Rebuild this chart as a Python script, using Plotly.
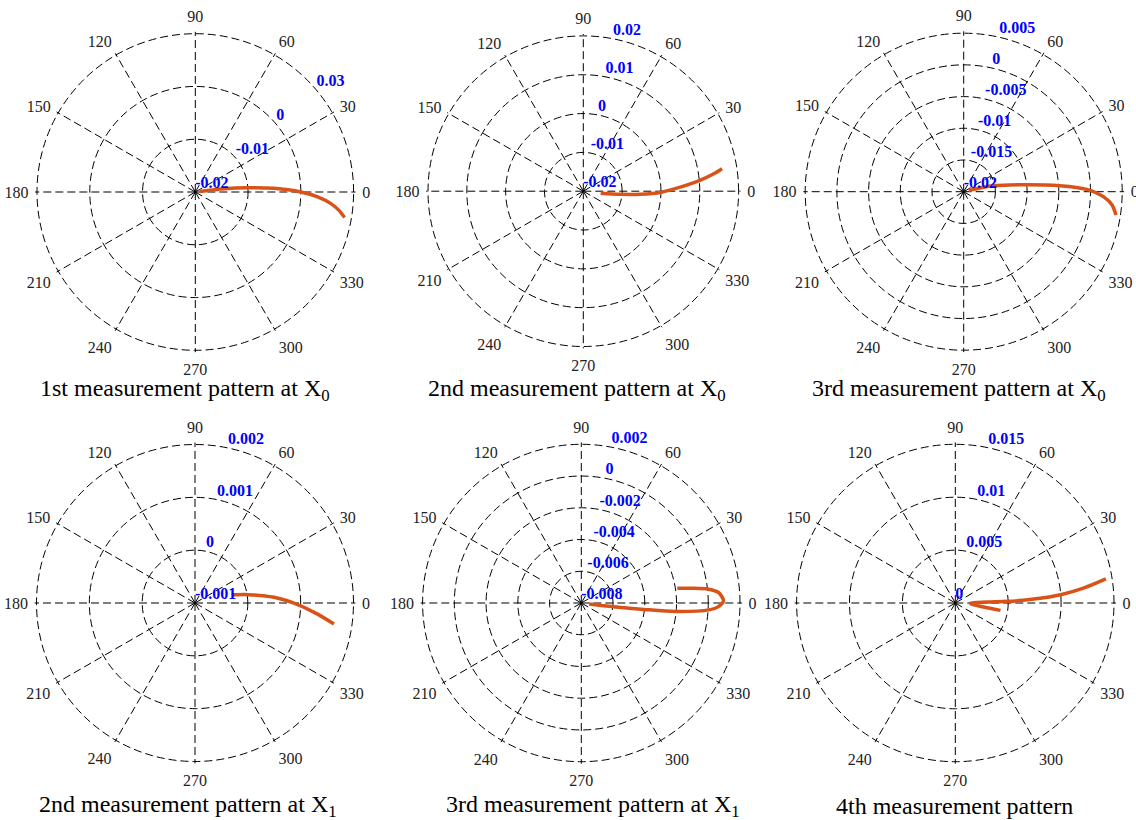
import plotly.graph_objects as go

W, H = 1136, 820

# ---------------- data ----------------
titles = [
    "1st measurement pattern at X<sub>0</sub>",
    "2nd measurement pattern at X<sub>0</sub>",
    "3rd measurement pattern at X<sub>0</sub>",
    "2nd measurement pattern at X<sub>1</sub>",
    "3rd measurement pattern at X<sub>1</sub>",
    "4th measurement pattern",
]

angle_ticks = [0, 30, 60, 90, 120, 150, 180, 210, 240, 270, 300, 330]
angle_labels = ["0", "30", "60", "90", "120", "150", "180", "210", "240", "270", "300", "330"]

# radial ring values and their printed labels
rticks_1 = [-0.02, -0.01, 0.0, 0.01]
rlabels_1 = ["-0.02", "-0.01", "0", "0.03"]
rticks_2 = [-0.02, -0.01, 0.0, 0.01, 0.02]
rlabels_2 = ["-0.02", "-0.01", "0", "0.01", "0.02"]
rticks_3 = [-0.02, -0.015, -0.01, -0.005, 0.0, 0.005]
rlabels_3 = ["-0.02", "-0.015", "-0.01", "-0.005", "0", "0.005"]
rticks_4 = [-0.001, 0.0, 0.001, 0.002]
rlabels_4 = ["-0.001", "0", "0.001", "0.002"]
rticks_5 = [-0.008, -0.006, -0.004, -0.002, 0.0, 0.002]
rlabels_5 = ["-0.008", "-0.006", "-0.004", "-0.002", "0", "0.002"]
rticks_6 = [0.0, 0.005, 0.01, 0.015]
rlabels_6 = ["0", "0.005", "0.01", "0.015"]

# measured curves (theta in degrees, r in axis units)
theta_1 = [8, 6.5, 4.6, 2.7, 0, -2.3, -4.9, -7.2, -9.7]
r_1 = [-0.0192, -0.0145, -0.0100, -0.0051, 0.0000, 0.0032, 0.0058, 0.0074, 0.0087]

theta_2 = [-6.6, -4.7, -3.0, -0.7, 2.4, 5.2, 7.6, 9.2]
r_2 = [-0.0155, -0.0105, -0.0053, 0.0001, 0.0050, 0.0100, 0.0139, 0.0162]

theta_3 = [15, 11.6, 6.4, 3.6, 1.1, -2.1, -5.1, -8.7]
r_3 = [-0.0192, -0.0153, -0.0100, -0.0048, -0.0006, 0.0021, 0.0035, 0.0043]

theta_4 = [12.3, 8.9, 4.1, -1.5, -5.1, -8.6]
r_4 = [-0.00029, 0.00002, 0.0005, 0.0010, 0.00132, 0.00166]

theta_5 = [-7, -6.5, -5.8, -5.1, -3.1, -1.5, 0.9, 4.4, 6.2, 7.6, 8.8]
r_5 = [-0.00751, -0.00597, -0.00402, -0.00204, 0.00003, 0.00064, 0.00096,
       0.00067, 0.00007, -0.00096, -0.00188]

theta_6 = [-9.3, -8.1, -3, 0, 1.8, 1.8, 2.9, 4.5, 6.7, 9.1]
r_6 = [0.00433, 0.00268, 0.00146, 0.00146, 0.00298, 0.00496, 0.00744, 0.00999, 0.01226, 0.01441]

panels = [
    (theta_1, r_1, rticks_1, rlabels_1),
    (theta_2, r_2, rticks_2, rlabels_2),
    (theta_3, r_3, rticks_3, rlabels_3),
    (theta_4, r_4, rticks_4, rlabels_4),
    (theta_5, r_5, rticks_5, rlabels_5),
    (theta_6, r_6, rticks_6, rlabels_6),
]

# ---------------- layout geometry (pixels) ----------------
centers = [(195.3, 192.0), (583.3, 191.2), (963.7, 191.7),
           (195.0, 603.0), (581.3, 603.0), (955.3, 603.0)]
radii = [158.3, 155.3, 158.5, 158.5, 158.7, 158.7]
label_angles = [40, 79, 77, 78, 79, 78]
title_x = [185, 577, 959, 187.5, 593, 954]
title_y = [389.5, 389.5, 389.5, 806, 806, 806]
EDGE = 0.012  # small headroom so the outermost ring is drawn as a grid circle

SERIF = "Liberation Serif, Times New Roman, serif"
ORANGE = "#D95319"
DASH = "8px,4px"

fig = go.Figure()
layout_polars = {}

for i, (th, rr, rt, rl) in enumerate(panels):
    name = "polar" if i == 0 else f"polar{i+1}"
    cx, cy = centers[i]
    R = radii[i] * (1 + EDGE)
    span = rt[-1] - rt[0]
    layout_polars[name] = dict(
        domain=dict(x=[(cx - R) / W, (cx + R) / W],
                    y=[1 - (cy + R) / H, 1 - (cy - R) / H]),
        bgcolor="white",
        radialaxis=dict(
            range=[rt[0], rt[-1] + span * EDGE],
            tickmode="array", tickvals=rt,
            showticklabels=False, ticks="",
            showline=False,
            showgrid=True, gridcolor="black", gridwidth=1, griddash=DASH,
        ),
        angularaxis=dict(
            tickmode="array", tickvals=angle_ticks, ticktext=angle_labels,
            direction="counterclockwise", rotation=0,
            showline=False,
            ticks="outside", ticklen=3, tickcolor="rgba(0,0,0,0)",
            tickfont=dict(family=SERIF, size=16, color="#222"),
            showgrid=True, gridcolor="black", gridwidth=1, griddash=DASH,
        ),
    )
    sub = "polar" if i == 0 else f"polar{i+1}"
    fig.add_trace(go.Scatterpolar(
        r=rr, theta=th, mode="lines", subplot=sub,
        line=dict(color=ORANGE, width=3.5, shape="spline", smoothing=0.8),
        hoverinfo="skip", showlegend=False,
    ))
    fig.add_trace(go.Scatterpolar(
        r=rt, theta=[label_angles[i]] * len(rt), mode="text", subplot=sub,
        text=rl, textposition="top right",
        textfont=dict(family=SERIF, size=16, color="#0000FF", weight="bold"),
        hoverinfo="skip", showlegend=False, cliponaxis=False,
    ))

annotations = []
for i, t in enumerate(titles):
    annotations.append(dict(
        text=t, x=title_x[i] / W, y=1 - title_y[i] / H,
        xref="paper", yref="paper", xanchor="center", yanchor="middle",
        showarrow=False, font=dict(family=SERIF, size=24, color="black"),
    ))

fig.update_layout(
    width=W, height=H,
    margin=dict(l=0, r=0, t=0, b=0),
    paper_bgcolor="white", plot_bgcolor="white",
    showlegend=False,
    annotations=annotations,
    **layout_polars,
)

fig.write_html("out.html")
